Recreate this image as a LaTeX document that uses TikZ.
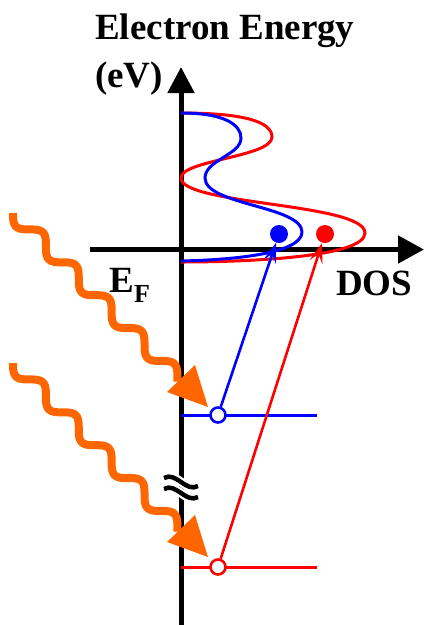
\documentclass[tikz,border=0pt]{standalone}
\usepackage{fontspec}
\setmainfont{Liberation Serif}
\usetikzlibrary{arrows.meta}
\definecolor{orng}{RGB}{255,102,0}
\tikzset{
  axisline/.style={line width=5pt,black},
  dos/.style={line width=3pt},
  level/.style={line width=3pt},
  trans/.style={line width=2.6pt,-{Stealth[length=20pt,width=13pt,inset=8pt]}},
  dot/.style={circle,minimum size=18pt,inner sep=0pt},
  hole/.style={circle,draw,line width=2.6pt,fill=white,minimum size=15pt,inner sep=0pt},
  wave/.style={orng,line width=8pt},
  whead/.style={fill=orng,draw=none},
  lbl/.style={inner sep=0pt,font=\bfseries\fontsize{37}{40}\selectfont},
  sublbl/.style={inner sep=0pt,font=\bfseries\fontsize{26}{28}\selectfont},
}
\begin{document}
\begin{tikzpicture}[x=1pt,y=-1pt]
\useasboundingbox (0,0) rectangle (424,625);
% labels
\node[lbl,anchor=base west] (title1) at (95,39) {Electron Energy};
\node[lbl,anchor=base west] (title2) at (95,87) {(eV)};
\node[lbl,anchor=base west] (ef) at (109,292) {E};
\node[sublbl,anchor=base west] (efsub) at (134,302) {F};
\node[lbl,anchor=base west] (doslbl) at (336,295) {DOS};
% axes
\coordinate (ytop) at (181,67);
\coordinate (ybot) at (181,626);
\coordinate (xl) at (90,249.5);
\coordinate (xr) at (424,249.5);
\draw[axisline,-{Triangle[length=26pt,width=26pt]}] (ybot) -- (ytop);
\draw[axisline,-{Triangle[length=26pt,width=27pt]}] (xl) -- (xr);
% DOS curves
\draw[dos,red] (181,113) .. controls (245,113) and (272,122) .. (272,137)
  .. controls (272,157) and (181,160) .. (181,178)
  .. controls (181,205) and (365,203) .. (365,233)
  .. controls (365,258) and (240,262) .. (181,262);
\draw[dos,blue] (181,113) .. controls (225,113) and (241,125) .. (241,138)
  .. controls (241,155) and (205,160) .. (205,178)
  .. controls (205,205) and (302,206) .. (302,232)
  .. controls (302,254) and (230,260) .. (181,261);
% dots
\node[dot,fill=blue] (bd) at (279,234) {};
\node[dot,fill=red] (rd) at (325,234) {};
% levels
\coordinate (bl0) at (181,415);
\coordinate (bl1) at (317,415);
\coordinate (rl0) at (181,567);
\coordinate (rl1) at (317,567);
\draw[level,blue] (bl0) -- (bl1);
\draw[level,red] (rl0) -- (rl1);
\node[hole,draw=blue] (bc) at (218,415) {};
\node[hole,draw=red] (rc) at (218,567) {};
\draw[trans,blue] (bc) -- (bd);
\draw[trans,red] (rc) -- (rd);
% axis break
\draw[white,line width=9pt] (164,478) .. controls (176,471) and (186,493) .. (198,486);
\draw[white,line width=9pt] (164,489) .. controls (176,482) and (186,504) .. (198,497);
\draw[black,line width=4.5pt] (164,478) .. controls (176,471) and (186,493) .. (198,486);
\draw[black,line width=4.5pt] (164,489) .. controls (176,482) and (186,504) .. (198,497);
% photons
\draw[wave] plot[domain=0:235.5,samples=240,variable=\t]
  ({13+0.7071*\t-5.23*sin(\t*7.742)},{213+0.7071*\t+5.23*sin(\t*7.742)});
\fill[whead] (167,392) -- (195,365) -- (208,407) -- cycle;
\draw[wave] plot[domain=0:235.5,samples=240,variable=\t]
  ({13+0.7071*\t-5.23*sin(\t*7.742)},{363+0.7071*\t+5.23*sin(\t*7.742)});
\fill[whead] (167,542) -- (195,515) -- (208,557) -- cycle;
\end{tikzpicture}
\end{document}
